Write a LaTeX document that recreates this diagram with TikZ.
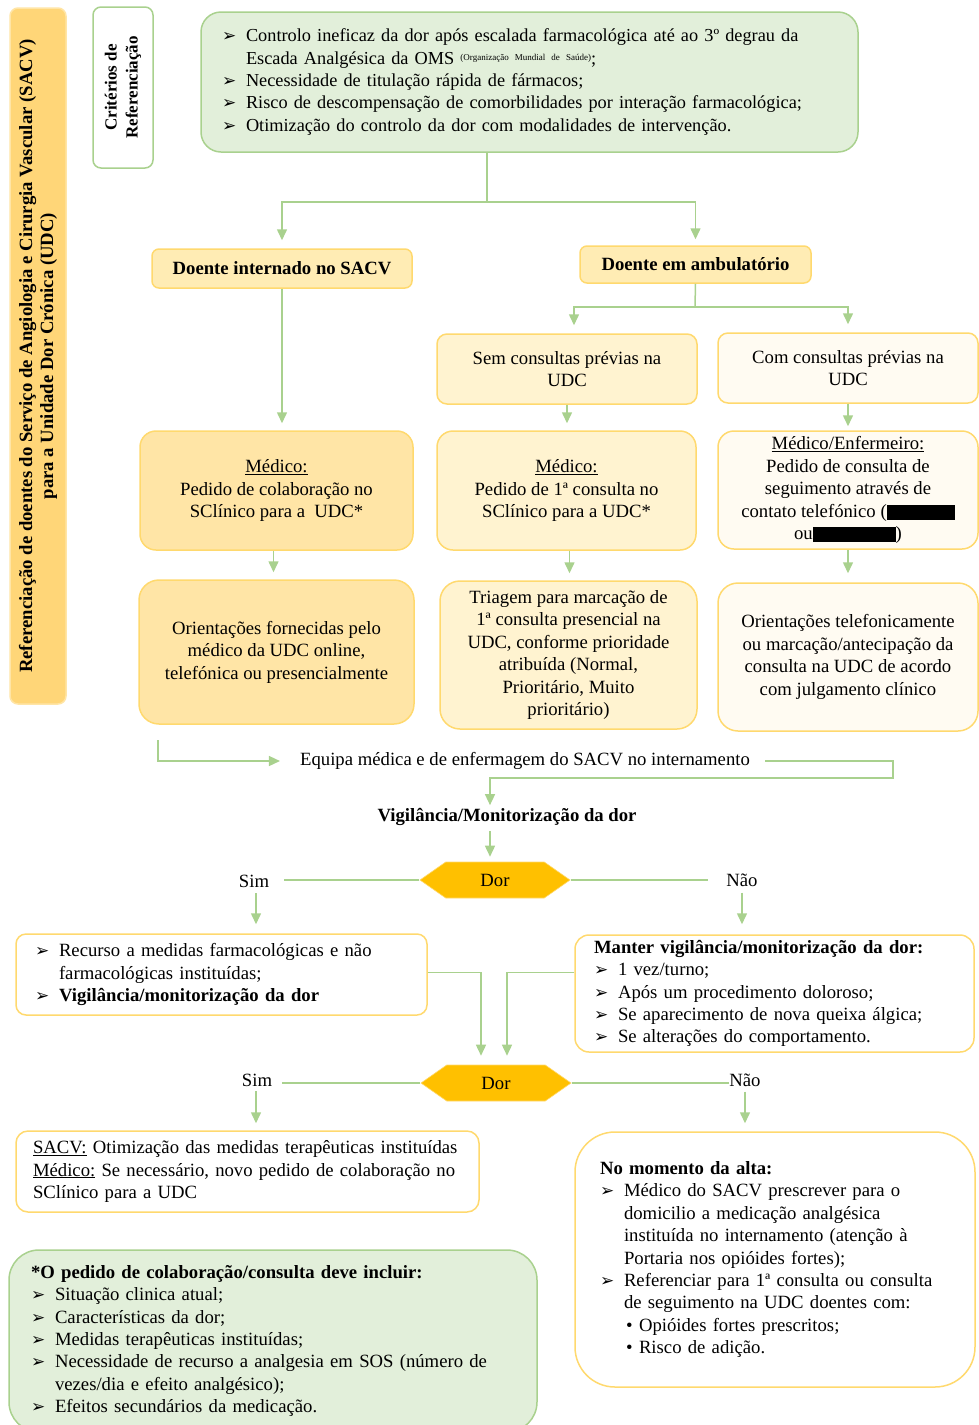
\documentclass[tikz,border=0pt]{standalone}
\usepackage{fontspec}
\setmainfont{Liberation Serif}
\newfontfamily\dejavu{DejaVu Sans}
\usepackage{xcolor}
\usepackage{tikz}
\usetikzlibrary{arrows.meta, positioning, shapes.symbols}
\definecolor{linegreen}{RGB}{169,209,142}
\definecolor{fillgreen}{RGB}{226,239,218}
\definecolor{goldline}{RGB}{255,217,110}
\definecolor{goldbar}{RGB}{255,214,120}
\definecolor{golddeep}{RGB}{255,229,166}
\definecolor{goldmid}{RGB}{255,236,180}
\definecolor{goldlight}{RGB}{255,243,208}
\definecolor{goldpale}{RGB}{255,251,242}
\definecolor{dorgold}{RGB}{255,192,0}
\newcommand{\txt}{\fontsize{18.7}{22.4}\selectfont}
\newcommand{\bul}{\makebox[24pt][l]{\dejavu\fontsize{17}{17}\selectfont ➢}}
\newcommand{\ind}{\hspace*{24pt}}
\newcommand{\subdot}{\hspace*{2pt}\makebox[13pt][l]{•}}
\tikzstyle{greenbox} = [rectangle, rounded corners=20pt, draw=linegreen, line width=1.5pt, fill=fillgreen, align=left]
\tikzstyle{labelbox} = [rectangle, rounded corners=7pt, draw=goldline, line width=1.5pt, fill=goldmid, font=\txt\bfseries, inner sep=0pt]
\tikzstyle{stepbox} = [rectangle, rounded corners=16pt, draw=goldline, line width=1.5pt, align=center, inner sep=0pt]
\tikzstyle{listbox} = [rectangle, rounded corners=12pt, draw=goldline, line width=1.5pt, fill=white, align=left]
\tikzstyle{decision} = [signal, signal to=east and west, signal pointer angle=70, fill=dorgold, draw=goldline, line width=0.6pt, minimum width=150pt, minimum height=36pt, inner sep=0pt]
\tikzstyle{link} = [draw=linegreen, line width=1.5pt]
\tikzstyle{arrow} = [link, -{Triangle[width=10pt,length=11pt]}, shorten >=7pt]

\begin{document}
\begin{tikzpicture}[x=1pt, y=-1pt, every node/.style={font=\txt}]
\useasboundingbox (0,0) rectangle (979,1425);
\clip (0,0) rectangle (979,1425);

% Side titles
\node (title) [rectangle, rounded corners=8pt, draw=golddeep, line width=1.5pt, fill=goldbar, rotate=90, minimum width=696pt, minimum height=56pt, align=center, font=\fontsize{18.7}{21}\selectfont\bfseries] at (38,356) {Referenciação de doentes do Serviço de Angiologia e Cirurgia Vascular (SACV)\\para a Unidade Dor Crónica (UDC)};
\node (criterios) [rectangle, rounded corners=8pt, draw=linegreen, line width=1.5pt, fill=white, rotate=90, minimum width=161pt, minimum height=60pt, align=center, font=\fontsize{17}{21}\selectfont\bfseries] at (123,87.5) {Critérios de\\Referenciação};

% Referral criteria
\node (criteria) [greenbox, text width=615pt, inner xsep=21pt, minimum height=140pt, font=\fontsize{18.3}{22.4}\selectfont] at (529.5,82) {\bul Controlo ineficaz da dor após escalada farmacológica até ao 3º degrau da\\\ind Escada Analgésica da OMS \raisebox{4pt}{\fontsize{9}{10}\selectfont (Organização Mundial de Saúde)};\\\bul Necessidade de titulação rápida de fármacos;\\\bul Risco de descompensação de comorbilidades por interação farmacológica;\\\bul Otimização do controlo da dor com modalidades de intervenção.};

% Patient type
\node (internado) [labelbox, minimum width=260pt, minimum height=39pt] at (282,268.5) {Doente internado no SACV};
\node (ambulatorio) [labelbox, minimum width=231pt, minimum height=37pt] at (695.5,264.5) {Doente em ambulatório};
\node (semcons) [stepbox, rounded corners=10pt, fill=goldlight, minimum width=260pt, minimum height=70pt] at (567,369) {Sem consultas prévias na\\UDC};
\node (comcons) [stepbox, rounded corners=10pt, fill=goldpale, minimum width=260pt, minimum height=70pt] at (848,368) {Com consultas prévias na\\UDC};

% Requests
\node (medint) [stepbox, fill=golddeep, minimum width=273pt, minimum height=119pt] at (276.5,490.5) {\underline{Médico:}\\Pedido de colaboração no\\SClínico para a \ UDC*};
\node (medsem) [stepbox, fill=goldlight, minimum width=259pt, minimum height=119pt] at (566.5,490.5) {\underline{Médico:}\\Pedido de 1ª consulta no\\SClínico para a UDC*};
\node (medcom) [stepbox, fill=goldpale, minimum width=260pt, minimum height=118pt] at (848,490) {\underline{Médico/Enfermeiro:}\\Pedido de consulta de\\seguimento através de\\contato telefónico (\rule[-3pt]{68pt}{15pt}\\ou\rule[-3pt]{83pt}{15pt})};

% Answers
\node (oriint) [stepbox, rounded corners=20pt, fill=golddeep, minimum width=275pt, minimum height=144pt] at (276.5,652) {Orientações fornecidas pelo\\médico da UDC online,\\telefónica ou presencialmente};
\node (triagem) [stepbox, rounded corners=20pt, fill=goldlight, minimum width=257pt, minimum height=148pt] at (568.5,655) {Triagem para marcação de\\1ª consulta presencial na\\UDC, conforme prioridade\\atribuída (Normal,\\Prioritário, Muito\\prioritário)};
\node (oricom) [stepbox, rounded corners=20pt, fill=goldpale, minimum width=260pt, minimum height=148pt] at (848,657) {Orientações telefonicamente\\ou marcação/antecipação da\\consulta na UDC de acordo\\com julgamento clínico};

% Inpatient follow-up
\node (equipa) [inner sep=0pt] at (525,761) {Equipa médica e de enfermagem do SACV no internamento};
\node (vigil) [inner sep=0pt, font=\txt\bfseries] at (507,817) {Vigilância/Monitorização da dor};
\node (dor1) [decision] at (495,880) {Dor};
\node (sim1) [inner sep=0pt] at (254,881) {Sim};
\node (nao1) [inner sep=0pt] at (742,880) {Não};
\node (recurso) [listbox, rounded corners=10pt, text width=373pt, inner xsep=19pt, minimum height=81pt] at (221.5,974.5) {\bul Recurso a medidas farmacológicas e não\\\ind farmacológicas instituídas;\\\bul \textbf{Vigilância/monitorização da dor}};
\node (manter) [listbox, rounded corners=14pt, text width=361pt, inner xsep=19pt, minimum height=117pt] at (774.5,993.5) {\textbf{Manter vigilância/monitorização da dor:}\\\bul 1 vez/turno;\\\bul Após um procedimento doloroso;\\\bul Se aparecimento de nova queixa álgica;\\\bul Se alterações do comportamento.};
\node (dor2) [decision] at (496,1083) {Dor};
\node (sim2) [inner sep=0pt] at (257,1080) {Sim};
\node (nao2) [inner sep=0pt] at (745,1080) {Não};
\node (otimiz) [listbox, text width=429pt, inner xsep=17pt, minimum height=81pt] at (247.5,1171.5) {\underline{SACV:} Otimização das medidas terapêuticas instituídas\\\underline{Médico:} Se necessário, novo pedido de colaboração no\\SClínico para a UDC};
\node (alta) [listbox, rounded corners=40pt, text width=350pt, inner xsep=25pt, minimum height=255pt] at (775,1259.5) {\textbf{No momento da alta:}\\\bul Médico do SACV prescrever para o\\\ind domicilio a medicação analgésica\\\ind instituída no internamento (atenção à\\\ind Portaria nos opióides fortes);\\\bul Referenciar para 1ª consulta ou consulta\\\ind de seguimento na UDC doentes com:\\\ind\subdot Opióides fortes prescritos;\\\ind\subdot Risco de adição.};

% Request content
\node (pedido) [greenbox, rounded corners=30pt, text width=484pt, inner xsep=22pt, minimum height=182pt] at (273,1341) {\textbf{*O pedido de colaboração/consulta deve incluir:}\\\bul Situação clinica atual;\\\bul Características da dor;\\\bul Medidas terapêuticas instituídas;\\\bul\makebox[457pt][s]{Necessidade de recurso a analgesia em SOS (número de}\\\ind vezes/dia e efeito analgésico);\\\bul Efeitos secundários da medicação.};

% Arrows
\coordinate (splitA) at (487,202);
\coordinate (splitB) at (695,307);
\coordinate (eqstart) at (158,740);
\coordinate (eqturn) at (893,778);
\coordinate (vigin) at (490,778);
\draw [link] (criteria.south -| splitA) -- (splitA);
\draw [arrow, shorten >=8pt] (splitA) -| (internado.north);
\draw [arrow, shorten >=6pt] (splitA) -| (ambulatorio.north);
\draw [arrow] (internado.south) -- (internado.south |- medint.north);
\draw [link] (ambulatorio.south) -- (splitB);
\draw [arrow, shorten >=8pt] (splitB) -| ([xshift=7pt]semcons.north);
\draw [arrow, shorten >=8pt] (splitB) -| (comcons.north);
\draw [arrow] (semcons.south) -- (medsem.north -| semcons.south);
\draw [arrow, shorten >=4pt] (comcons.south) -- (medcom.north -| comcons.south);
\draw [arrow] ([xshift=-3pt]medint.south) -- ([xshift=-3pt]medint.south |- oriint.north);
\draw [arrow] ([xshift=3pt]medsem.south) -- ([xshift=3pt]medsem.south |- triagem.north);
\draw [arrow, shorten >=9pt] (medcom.south) -- (oricom.north -| medcom.south);
\draw [arrow, shorten >=20pt] (eqstart) |- (equipa.west);
\draw [arrow, shorten <=15pt, shorten >=3pt] (equipa.east) -| (eqturn) -- (vigin) -- (vigin |- vigil.north);
\draw [arrow, shorten <=5pt, shorten >=5pt] (vigil.south -| vigin) -- (dor1.north -| vigin);
\draw [link, shorten >=15pt] (dor1.west) -- (dor1.west -| sim1.east);
\draw [link, shorten >=18pt] (dor1.east) -- (dor1.east -| nao1.west);
\draw [arrow, shorten <=6pt, shorten >=9pt] ([xshift=2pt]sim1.south) -- ([xshift=2pt]sim1.south |- recurso.north);
\draw [arrow, shorten <=6pt, shorten >=10pt] (nao1.south) -- (nao1.south |- manter.north);
\draw [arrow, shorten >=9pt] ([yshift=2pt]recurso.east) -| ([xshift=-15pt]dor2.north);
\draw [arrow, shorten >=9pt] ([yshift=21pt]manter.west) -| ([xshift=11pt]dor2.north);
\draw [link, shorten >=10pt] (dor2.west) -- (dor2.west -| sim2.east);
\draw [link] (dor2.east) -- (dor2.east -| nao2.west);
\draw [arrow, shorten <=5pt] ([xshift=-1pt]sim2.south) -- ([xshift=-1pt]sim2.south |- otimiz.north);
\draw [arrow, shorten <=5pt, shorten >=8pt] (nao2.south) -- (nao2.south |- alta.north);

\end{tikzpicture}
\end{document}
